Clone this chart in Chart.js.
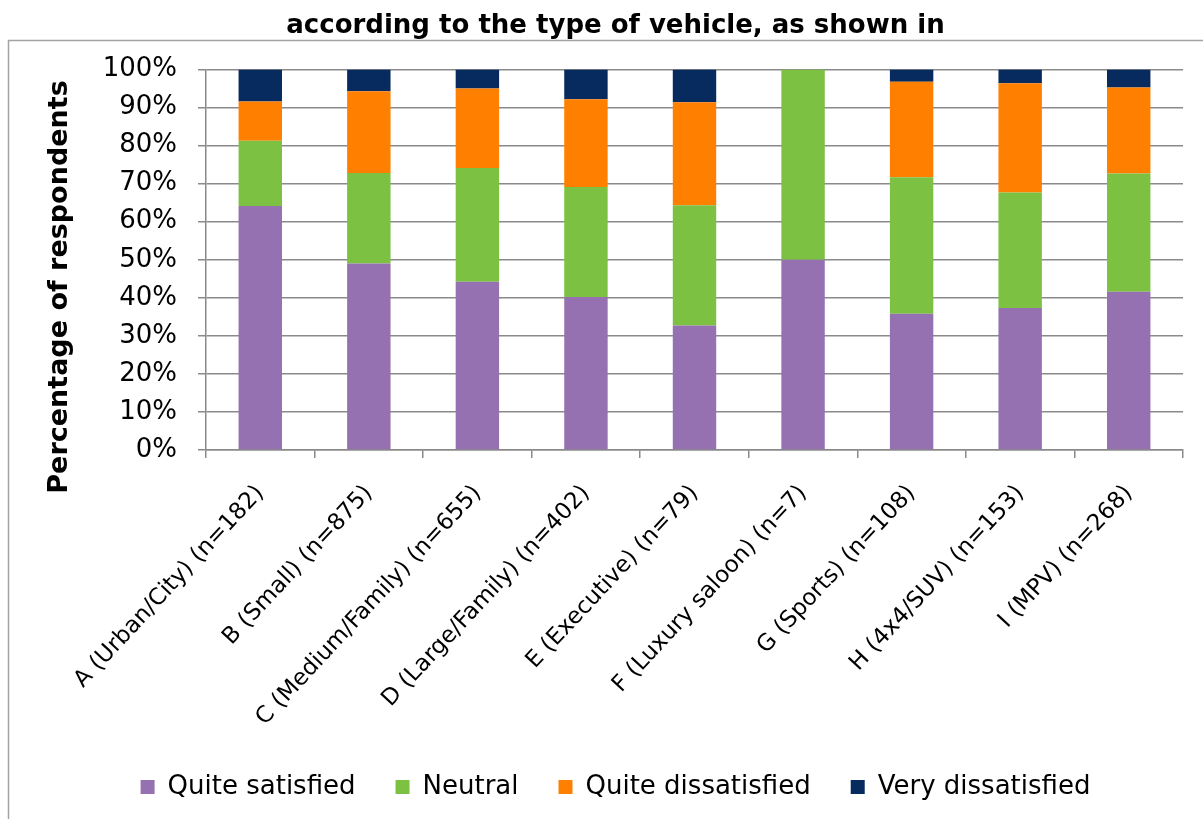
<!DOCTYPE html>
<html>
<head>
<meta charset="utf-8">
<title>Satisfaction by type of vehicle</title>
<script src="https://cdn.jsdelivr.net/npm/chart.js@4/dist/chart.umd.min.js"></script>
<style>
  html, body { margin: 0; padding: 0; background: #fff; }
  #wrap { width: 1203px; height: 819px; position: relative; }
</style>
</head>
<body>
<div id="wrap"><canvas id="chart" width="1203" height="819"></canvas></div>
<script>
// Vehicle categories (with sample sizes) along the x axis
const categories = [
  'A (Urban/City) (n=182)',
  'B (Small) (n=875)',
  'C (Medium/Family) (n=655)',
  'D (Large/Family) (n=402)',
  'E (Executive) (n=79)',
  'F (Luxury saloon) (n=7)',
  'G (Sports) (n=108)',
  'H (4x4/SUV) (n=153)',
  'I (MPV) (n=268)'
];

// Share of respondents per answer, in percent
const quiteSatisfied    = [64.1, 49.0, 44.2, 40.2, 32.7, 50.0, 35.8, 37.3, 41.6];
const neutral           = [17.2, 23.8, 29.9, 28.9, 31.6, 50.0, 35.9, 30.4, 31.1];
const quiteDissatisfied = [10.3, 21.5, 20.9, 23.1, 27.1,  0.0, 25.1, 28.7, 22.6];
const veryDissatisfied  = [ 8.4,  5.7,  5.0,  7.8,  8.6,  0.0,  3.2,  3.6,  4.7];

const seriesNames = ['Quite satisfied', 'Neutral', 'Quite dissatisfied', 'Very dissatisfied'];
const yTickLabels = ['0%', '10%', '20%', '30%', '40%', '50%', '60%', '70%', '80%', '90%', '100%'];

const chartTitle = 'according to the type of vehicle, as shown in';
const yAxisTitle = 'Percentage of respondents';

const FONT = '"DejaVu Sans", Verdana, sans-serif';
const GRID = '#8a8a8a';

// White page with the thin frame around the plot block
const framePlugin = {
  id: 'frame',
  beforeDraw(chart) {
    const ctx = chart.ctx;
    ctx.save();
    ctx.fillStyle = '#ffffff';
    ctx.fillRect(0, 0, chart.width, chart.height);
    ctx.strokeStyle = '#a3a3a3';
    ctx.lineWidth = 1.5;
    ctx.strokeRect(8.5, 40.5, chart.width + 20, chart.height + 20);
    ctx.restore();
  }
};

// Vertical axis caption
const yTitlePlugin = {
  id: 'yTitle',
  afterDraw(chart) {
    const ctx = chart.ctx;
    ctx.save();
    ctx.translate(60, 287);
    ctx.rotate(-Math.PI / 2);
    ctx.font = 'bold 27px ' + FONT;
    ctx.fillStyle = '#000';
    ctx.textAlign = 'center';
    ctx.textBaseline = 'middle';
    ctx.fillText(yAxisTitle, 0, 0);
    ctx.restore();
  }
};

const colors = ['#9571b1', '#7dc142', '#ff8000', '#072b5e'];
const seriesData = [quiteSatisfied, neutral, quiteDissatisfied, veryDissatisfied];

new Chart(document.getElementById('chart'), {
  type: 'bar',
  data: {
    labels: categories,
    datasets: seriesNames.map((name, i) => ({
      label: name,
      data: seriesData[i],
      backgroundColor: colors[i],
      borderWidth: 0,
      barPercentage: 0.4,
      categoryPercentage: 1.0
    }))
  },
  options: {
    responsive: false,
    animation: false,
    devicePixelRatio: 1,
    layout: { padding: { left: 48, right: 20, top: 0, bottom: 9 } },
    plugins: {
      tooltip: { enabled: false },
      title: {
        display: true,
        text: chartTitle,
        color: '#000',
        font: { family: FONT, size: 26, weight: 'bold' },
        padding: { top: 10.5, bottom: 27.8 }
      },
      legend: {
        position: 'bottom',
        labels: {
          color: '#000',
          font: { family: FONT, size: 26 },
          boxWidth: 14,
          boxHeight: 14,
          padding: 40
        }
      }
    },
    scales: {
      x: {
        stacked: true,
        grid: { drawOnChartArea: false, offset: true, tickLength: 8, color: GRID, lineWidth: 1.5 },
        border: { color: GRID, width: 1.5 },
        ticks: {
          color: '#000',
          font: { family: FONT, size: 23 },
          minRotation: 47,
          maxRotation: 47,
          autoSkip: false,
          padding: 22
        },
        afterFit(scale) { scale.height = 284; }
      },
      y: {
        stacked: true,
        min: 0,
        max: 100,
        grid: { color: GRID, lineWidth: 1.5, tickLength: 8 },
        border: { color: GRID, width: 1.5 },
        ticks: {
          stepSize: 10,
          color: '#000',
          font: { family: FONT, size: 26 },
          padding: 21,
          callback: (value, index) => yTickLabels[index]
        },
        afterFit(scale) { scale.width = 158; }
      }
    }
  },
  plugins: [framePlugin, yTitlePlugin]
});
</script>
</body>
</html>
